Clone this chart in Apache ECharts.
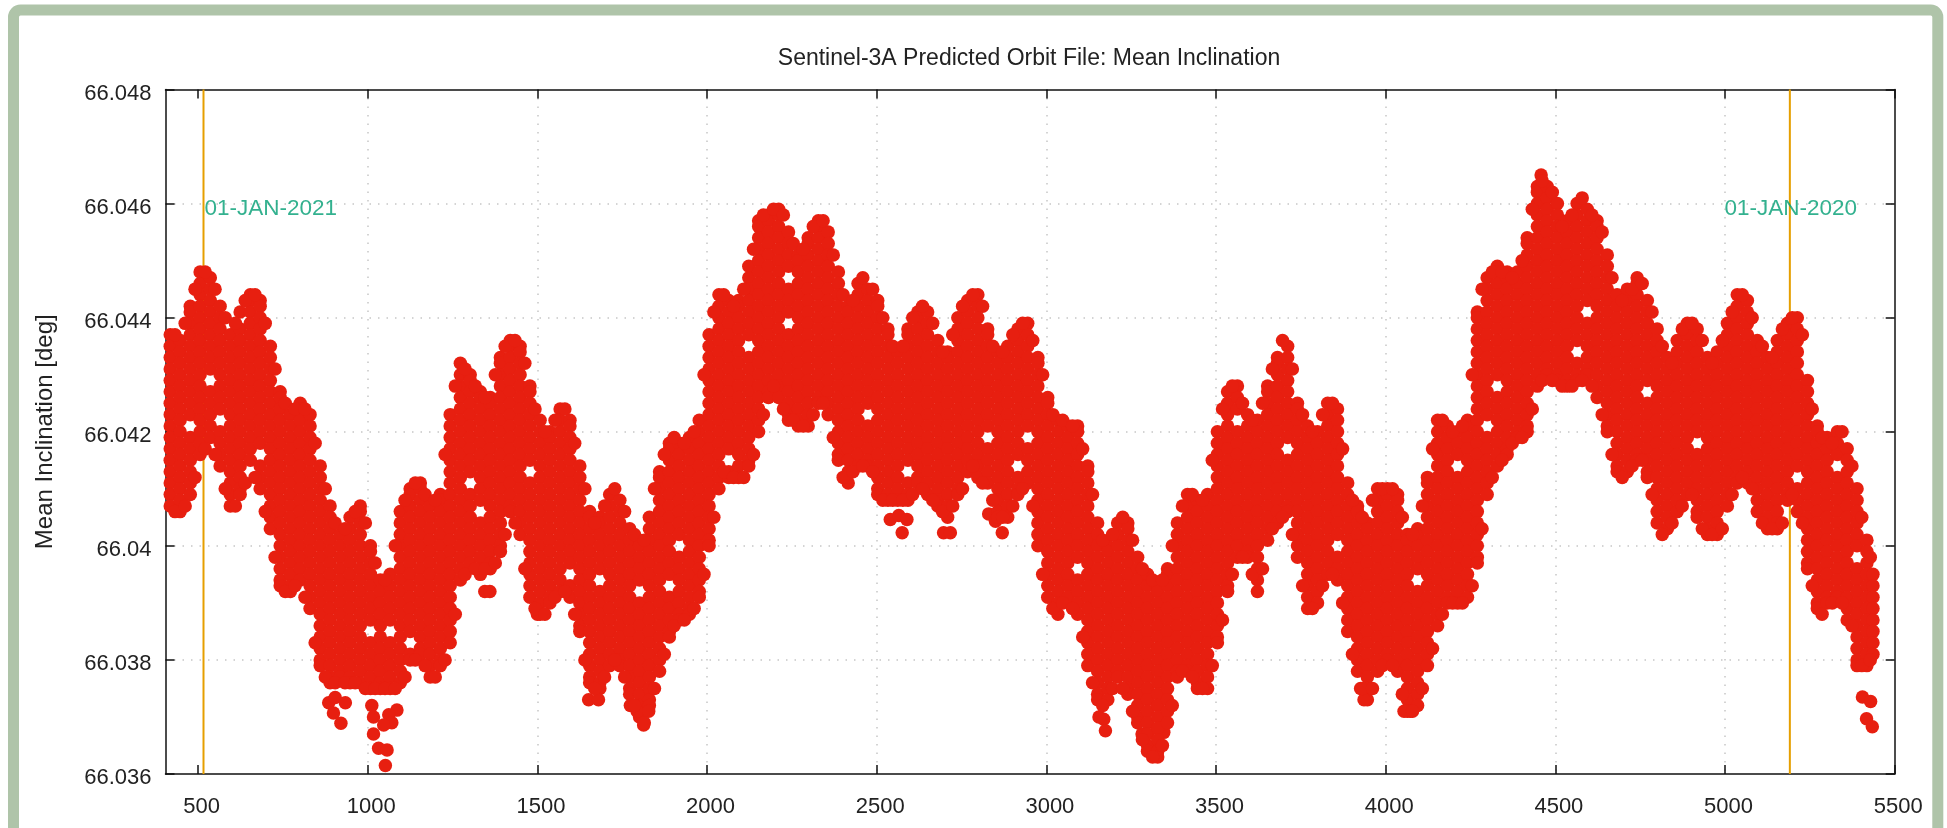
<!DOCTYPE html>
<html>
<head>
<meta charset="utf-8">
<style>html,body{margin:0;padding:0;background:#fff;overflow:hidden}#c{width:1947px;height:828px}</style>
<script src="https://cdn.jsdelivr.net/npm/echarts@6/dist/echarts.min.js"></script>
</head>
<body>
<div id="c"></div>
<script>
// Each row: x (orbit/day index) then readings, in units of 0.0001 deg above 66.036
const rows0400 = [
[418,77,75,73,71,69,67,65,63,61,59,57,55,53,51,49,47],
[447,76,74,72,70,68,66,64,62,60,58,56,54,52,50,48,46],
[477,82,81,79,77,75,73,71,69,67,65,63,59,57,55,53,51,49],
[506,88,86,84,82,80,78,76,74,72,70,68,66,64,62,60,58,56],
[536,87,85,83,81,79,77,75,73,71,67,65,63,61,59],
[565,82,80,78,76,74,72,70,68,66,64,60,58,56,54],
[595,77,75,73,71,69,67,65,63,61,59,57,55,53,51,49,47],
[624,81,78,76,74,72,70,68,66,64,62,60,58,56,54,52,50,49],
[654,84,83,81,79,77,75,73,71,69,67,65,63,61,59,57,55],
[683,83,82,80,78,76,74,72,70,68,66,64,62,60,58,54,52,50],
[713,75,73,71,69,67,65,63,61,59,57,55,53,51,49,47,45,43],
[742,67,66,64,62,60,58,56,54,52,50,48,46,44,42,40,38,36,34,33],
[772,63,61,59,57,55,53,51,49,47,45,43,41,39,37,35,33,32],
[801,65,64,62,60,58,56,54,52,50,48,46,44,42,40,38,36,34],
[830,63,61,59,57,55,53,51,49,47,45,43,41,39,37,35,33,31,29],
[860,54,52,50,48,46,44,42,40,38,36,34,32,30,28,26,24,22,20,19],
[889,47,45,43,41,39,37,35,33,31,29,27,25,23,21,19,17,16],
[919,42,40,38,36,34,32,30,28,26,24,22,20,18,17],
[948,45,43,41,39,37,35,33,31,29,27,25,23,21,19,17,16],
[978,47,46,44,42,40,38,36,34,32,30,28,26,24,22,20,18,16],
[885,12.5],[904,13.4],[934,12.5],[899,10.7],[921,8.9]
];
const rows1000 = [
[1008,40,39,37,35,33,31,29,27,23,21,19,17,15],
[1037,34,32,30,28,26,24,22,20,18,16,15],
[1066,35,33,31,29,27,23,21,19,17,15],
[1096,46,44,42,40,38,36,34,32,30,28,26,24,22,20,18,16],
[1125,50,49,47,45,43,41,39,37,35,33,31,29,27,25,21,20],
[1155,51,50,48,46,44,42,40,38,36,34,32,30,28,26,24,22,21],
[1184,47,45,43,41,39,37,35,33,31,29,27,25,23,21,19,17],
[1214,49,48,46,44,42,40,38,36,34,32,30,28,26,24,22,20,19],
[1243,63,61,59,57,55,53,51,49,47,45,43,41,39,37,35,33,31,29,27,25,23],
[1273,72,70,68,66,64,62,60,58,56,54,52,50,48,46,44,42,40,38,36,34],
[1302,70,69,67,65,63,61,59,57,55,53,49,47,45,43,41,39,37],
[1332,67,66,64,62,60,58,56,54,52,50,48,44,42,40,38,36,35],
[1361,66,65,63,61,59,57,55,53,51,49,47,45,43,41,39,37,36],
[1391,73,72,70,68,66,64,62,60,58,56,54,52,50,48,46,44,42,40,39],
[1420,76,75,73,71,69,67,65,63,61,59,57,55,53,51,49,47,46],
[1449,75,74,72,70,68,66,64,62,60,58,56,54,52,50,48,46,44,42],
[1478,68,67,65,63,61,59,57,55,51,49,47,45,43,41,39,37,35,33,31],
[1012,12],[1017,10],[1017,7],[1032,4.5],[1057,4.2],[1052,1.5],[1086,11.2],[1062,10.4],[1071,9],[1047,8.6],[1345,32],[1360,32],[1508,30],[1500,28]
];
const rows1500 = [
[1508,62,60,58,56,54,52,50,48,46,44,42,40,38,36,34,32,28],
[1537,60,59,57,55,53,51,49,47,45,43,41,39,37,35,33,31,30],
[1567,64,62,60,58,56,54,52,50,48,46,44,42,40,38,36,34,32],
[1596,62,61,59,57,55,53,51,49,47,45,43,41,39,37,33,31],
[1625,54,52,50,48,46,44,42,40,38,36,34,32,30,28,26,25],
[1654,46,45,43,41,39,37,35,33,31,29,27,25,23,21,19,17,16],
[1684,45,44,42,40,38,36,32,30,28,26,24,22,20,18,16,15],
[1713,49,47,45,43,41,39,37,35,33,31,29,27,25,23,21,19],
[1743,48,46,44,42,40,38,36,34,32,30,28,26,24,22,20,19],
[1772,43,41,39,37,35,33,31,29,27,25,23,21,19,17,15,14],
[1801,41,40,38,36,34,30,28,26,24,22,20,18,16,14,12,10],
[1830,45,43,41,39,37,35,33,31,29,27,25,23,21,19,17,15,13,12],
[1860,53,52,50,48,46,44,42,40,38,36,34,32,30,28,26,24,22,20,18],
[1889,58,57,55,53,51,49,47,45,43,41,39,37,35,31,29,27,25,24],
[1918,58,56,54,52,50,48,46,44,42,38,36,34,32,30,28,27],
[1948,59,57,55,53,51,49,47,45,43,41,39,37,35,33,31,29,28],
[1977,62,60,58,56,54,52,50,48,46,44,42,40,38,36,34,32,31],
[1651,13],[1680,13],[1774,12],[1794,11],[1813,8.6],[1828,11]
];
const rows2000 = [
[2006,77,75,73,71,69,67,65,63,61,59,57,55,53,51,49,47,45,43,41,40],
[2035,84,82,80,78,76,74,72,70,68,66,64,62,60,58,56,54,52,50],
[2064,83,81,79,77,75,73,71,69,67,65,63,61,59,57,53,52],
[2093,83,82,80,78,76,74,72,70,68,66,64,62,60,58,56,54,52],
[2123,89,87,85,83,81,79,77,73,71,69,67,65,63,61,59,57,55,54],
[2152,97,96,94,92,90,88,86,84,82,80,78,76,74,72,70,68,66,64,62,60],
[2181,98,97,95,93,91,89,87,85,83,81,79,77,75,73,71,69,67,66],
[2211,99,98,96,94,92,90,88,86,84,82,80,78,76,74,72,70,68,66],
[2240,95,93,91,89,85,83,81,77,75,73,71,69,67,65,63,62],
[2269,91,90,88,86,84,82,80,78,76,74,72,70,68,66,64,62,61],
[2298,94,93,91,89,87,85,83,81,79,77,75,73,71,69,67,65,63,61],
[2328,97,96,94,92,90,88,86,84,82,80,78,76,74,72,70,68,66,65],
[2357,95,93,91,89,87,85,83,81,79,77,75,73,71,69,67,65,63],
[2387,88,86,84,82,80,78,76,74,72,70,68,66,64,62,60,58,56,55],
[2416,82,81,79,77,75,73,71,69,67,65,63,61,59,57,55,53,51],
[2445,86,84,82,80,78,76,74,72,70,68,66,64,62,60,58,56,54],
[2474,85,83,81,79,77,75,73,71,69,67,65,61,59,57,55,54],
[2540,44.6],[2565,45.3],[2589,44.6],[2575,42.3],[2697,42.3],[2717,42.3],[2830,45.6],[2850,44.3],[2870,42.3]
];
const rows2500 = [
[2503,83,82,80,78,76,74,72,70,68,66,64,62,60,58,56,54,52,50,49],
[2533,78,77,75,73,71,69,67,65,63,61,59,57,55,53,51,49,48],
[2562,74,72,70,68,66,64,62,60,58,56,54,52,50,48],
[2592,78,77,75,73,71,69,67,65,63,61,59,57,55,51,49,48],
[2621,81,80,78,76,74,72,70,68,66,64,62,60,58,56,54,52,51],
[2650,81,79,77,75,73,71,69,67,65,63,61,59,57,55,53,51,49],
[2680,76,74,72,70,68,66,64,62,60,58,56,54,52,50,48,47],
[2709,74,73,71,69,67,65,63,61,59,57,55,53,51,49,47,45],
[2739,80,78,76,74,72,70,68,66,64,62,60,58,56,54,52,50,49],
[2768,83,81,79,77,75,73,71,69,67,65,63,61,59,57,55,53],
[2798,84,82,80,78,76,74,72,70,68,66,64,62,60,58,56,54,52],
[2827,78,77,75,73,71,69,67,65,63,61,57,55,53,51],
[2857,74,72,70,68,66,64,62,60,58,56,54,52,50,48,46,45],
[2886,75,73,71,69,67,65,63,61,59,57,55,53,51,49,47,45],
[2916,78,76,74,72,70,68,66,64,62,60,58,56,52,50,49],
[2945,79,77,75,73,71,69,67,65,63,61,57,55,53,51],
[2975,73,72,70,68,66,64,62,60,58,56,54,52,50,48,46,44,42,40],
[3169,9.6],[3174,7.6],[3155,10],[3282,7],[3346,7.3],[3322,4.6]
];
const rows3000 = [
[3004,66,65,63,61,59,57,55,53,51,49,47,45,43,41,39,37,35,33,31],
[3034,62,60,58,56,54,52,50,48,46,44,42,40,38,36,34,32,30,28],
[3063,61,59,57,55,53,51,49,47,45,43,41,39,37,35,33,31],
[3092,61,60,58,56,54,52,50,48,46,44,42,40,38,34,32,30,28],
[3122,54,53,51,49,47,45,43,41,39,37,35,33,31,29,27,25,23,21,19],
[3151,44,42,40,38,36,34,32,30,28,26,24,22,20,18,16,14,13],
[3181,40,39,37,35,33,31,29,27,25,23,21,19,17,15,13],
[3210,44,42,40,38,36,34,32,30,28,26,24,22,20,18,17],
[3240,44,43,41,39,37,35,33,31,29,27,25,23,21,19,17,15,14],
[3269,38,36,34,32,30,28,26,24,22,20,18,16,14,12,10,9],
[3298,35,33,31,29,27,25,23,21,19,17,15,13,11,9,7,5,4],
[3328,33,32,30,28,26,24,22,20,18,16,14,12,10,8,6,4,3],
[3357,36,35,33,31,29,27,25,23,21,19,17,15,13,11,9],
[3386,44,42,40,38,36,34,32,30,28,26,24,22,20,18,17],
[3416,49,47,45,43,41,39,37,35,33,31,29,27,25,23,21,19,18],
[3445,48,46,44,42,40,38,36,34,32,30,28,26,24,22,20,18,16,15],
[3475,49,47,45,43,41,39,37,35,33,31,29,27,25,23,21,19,17,15]
];
const rows3500 = [
[3504,60,58,56,54,52,50,48,46,44,42,40,38,36,34,32,30,28,26,24,23],
[3534,67,65,63,61,59,57,55,53,51,49,47,45,43,41,39,37,35,33,32],
[3563,68,66,64,60,58,56,54,52,50,48,46,44,42,40,38],
[3593,63,61,59,57,55,53,51,49,47,45,43,41,39,38],
[3622,62,60,58,56,54,52,50,48,46,44,42,40,38,36,34,32],
[3652,68,67,65,63,61,59,57,55,53,51,49,47,45,43,41],
[3681,73,72,70,68,66,64,62,60,58,56,54,52,50,48,46,44],
[3711,75,73,71,69,67,65,63,61,59,55,53,51,49,47,46],
[3740,65,64,62,60,58,56,54,52,50,48,46,44,42,40,38],
[3770,61,59,57,55,53,51,49,47,45,43,41,39,37,35,33,31,29],
[3799,60,58,56,54,52,50,48,46,44,42,40,38,36,34,32,30],
[3829,65,63,61,59,57,55,53,51,49,47,45,43,41,39,37,35],
[3858,64,62,60,58,56,54,52,50,48,46,44,42,38,36,34],
[3888,51,49,47,45,43,41,39,37,35,33,31,29,27,25],
[3917,47,46,44,42,40,38,36,34,32,30,28,26,24,22,20,18],
[3946,44,43,41,39,37,35,33,31,29,27,25,23,21,19,17,15,13],
[3976,50,48,46,44,42,40,38,36,34,32,30,28,26,24,22,20,18],
[3926,15],[3936,13]
];
const rows4000 = [
[4005,50,49,47,45,43,41,39,37,35,33,31,29,27,25,23,21,20],
[4035,49,48,46,44,42,40,38,36,34,32,30,28,26,24,22,20,18],
[4064,42,41,39,37,35,33,31,29,27,25,23,21,19,17,15,13,11],
[4094,43,42,40,38,36,32,30,28,26,24,22,20,18,16,14,12],
[4123,52,51,49,47,45,43,41,39,37,35,33,31,29,27,25,23,21,19],
[4153,62,60,58,56,54,52,50,48,46,44,42,40,38,36,34,32,30,28,26],
[4182,61,59,57,55,53,51,49,47,45,43,41,39,37,35,33,31,30],
[4212,60,58,56,52,50,48,46,44,42,40,38,36,34,32,30],
[4241,62,61,59,57,55,53,51,49,47,45,43,41,39,37,35,33,31],
[4270,81,80,78,76,74,72,70,68,66,64,62,60,58,56,54,52,50,48,46,44,42,40,38,37],
[4299,87,85,83,81,79,77,75,73,71,69,67,65,63,59,57,55,53,51,49],
[4329,89,88,86,84,82,80,78,76,74,72,70,66,64,62,60,58,56,54],
[4358,88,87,85,83,81,79,77,75,73,71,69,67,65,63,61,59,57,56],
[4388,88,86,84,82,80,78,76,74,72,70,68,66,64,62,60,59],
[4417,94,93,91,89,87,85,83,81,79,77,75,73,71,69,67,65,63,61,60],
[4447,103,102,100,98,96,94,92,90,88,86,84,82,80,78,76,74,72,70,68],
[4476,103,101,99,97,95,93,91,89,87,85,83,81,79,77,75,73,71,70],
[4458,105],[4073,11],[4054,11]
];
const rows4500 = [
[4506,100,98,96,94,92,90,88,86,84,82,80,78,76,74,72,70,69],
[4535,97,95,93,91,89,87,85,83,81,79,77,75,73,71,69,68],
[4564,100,98,96,94,92,90,88,86,84,82,80,78,76,72,70,69],
[4594,99,97,95,93,91,89,87,85,83,79,77,75,73,71,70],
[4623,97,96,94,92,90,88,86,84,82,80,78,76,74,72,70,68,66],
[4653,91,89,87,85,83,81,79,77,75,73,71,69,67,65,63,61,60],
[4682,84,82,80,78,76,74,72,70,68,66,64,62,60,58,56,54,53],
[4712,85,83,81,79,77,75,73,71,69,67,65,63,61,59,57,55,53],
[4741,87,86,84,82,80,78,76,74,72,70,68,66,64,62,60,58,56,55],
[4771,83,81,79,77,75,73,71,69,65,63,61,59,57,55,53,52],
[4800,78,76,74,72,70,68,66,64,62,60,58,56,54,52,50,48,46,44],
[4830,73,71,69,67,65,63,61,59,57,55,53,51,49,47,45,43],
[4859,76,74,72,70,68,66,64,62,60,58,56,54,52,50,48,46],
[4889,79,77,75,73,71,69,67,65,63,61,59,57,55,53,51,49],
[4918,78,76,74,72,70,68,66,64,62,60,56,54,52,50,48,46,45],
[4948,73,71,69,67,65,63,61,59,57,55,53,51,49,47,45,43,42],
[4977,74,72,70,68,66,64,62,60,58,56,54,52,50,48,46,44,42]
];
const rows5000 = [
[5007,79,77,75,73,71,69,67,65,63,61,59,57,55,53,51,49,47],
[5036,84,82,80,78,76,74,72,70,68,66,64,62,60,58,56,54,52,51],
[5066,83,81,79,77,75,73,71,69,67,65,63,61,59,57,55,53,51],
[5095,76,74,72,70,68,66,64,62,60,58,56,54,52,50,48,46],
[5125,73,71,69,67,65,63,61,59,57,55,53,51,49,47,45,43],
[5154,76,74,72,70,68,66,64,62,60,58,56,54,52,50,48,46,44,43],
[5184,79,77,75,73,71,69,67,65,63,61,59,57,55,53,51,49,48],
[5213,80,78,76,74,72,70,68,66,64,62,60,58,56,54,50,48,46],
[5243,69,67,65,63,61,59,57,55,53,51,49,47,45,43,41,39,37,36],
[5272,61,60,58,56,54,52,50,48,46,44,42,40,38,36,34,32,30,29],
[5301,59,57,55,53,51,49,47,45,43,41,39,37,35,33,31,30],
[5331,60,58,56,52,50,48,46,44,42,40,38,36,34,32,31],
[5360,57,55,53,51,49,47,45,43,41,39,37,35,33,31,29,27],
[5389,50,48,46,44,42,40,36,34,32,30,28,26,24,22,20,19],
[5418,41,39,37,35,33,31,29,27,25,23,21,19],
[5436,35,33,31,29,27,25,23,21],
[5405,13.5],[5429,12.7],[5417,9.7],[5434,8.3]
];
// Upper and lower rim readings between the columns above
const rimLow = [
[432,77,46],[462,79,47],[491,85,52],[521,88,57],[550,85,56],[580,80,50],[610,79,47],[639,83,51],[668,84,52],[698,79,46],
[727,71,38],[757,65,32],[786,64,33],[815,64,31],[845,58,23],[875,50,17],[904,44,16],[933,43,16],[963,46,16],[993,44,15],
[1022,37,15],[1051,34,15],[1081,40,15],[1110,48,17],[1140,51,20],[1169,49,19],[1199,48,17],[1228,56,20],[1258,68,28],[1287,71,35],
[1317,68,36],[1346,66,36],[1376,70,37],[1405,75,42],[1434,76,44],[1463,72,36],[1493,64,29],[1522,60,28],[1552,62,31],[1581,64,32],
[1610,58,28],[1640,50,20],[1669,44,15],[1698,47,17],[1728,50,20],[1757,46,17],[1786,42,12],[1815,41,9],[1845,50,15],[1874,56,21],
[1903,59,26],[1933,58,27],[1962,60,29],[1991,70,35],[2020,81,45],[2049,84,53],[2078,82,52],[2108,85,52],[2137,92,56],[2166,98,63],
[2196,99,68],[2225,98,64],[2254,93,62],[2283,92,61],[2313,96,63],[2342,97,65],[2372,91,59],[2401,84,52],[2430,83,53],[2459,87,54],
[2488,85,53],[2518,80,48],[2547,75,48],[2577,75,48],[2606,80,49],[2635,82,50],[2665,79,48],[2694,74,46],[2724,77,47],[2753,82,50],
[2783,84,54],[2812,82,51],[2842,75,48],[2871,74,45],[2901,77,47],[2930,79,50],[2960,76,47],[2989,70,35]
];
const rimHigh = [
[3019,63,29],[3048,62,30],[3077,61,29],[3107,57,24],[3136,49,16],[3166,41,12],[3195,42,15],[3225,45,15],[3254,41,11],[3283,36,6],
[3313,34,3],[3342,34,5],[3371,40,12],[3401,47,18],[3430,49,17],[3460,48,15],[3489,55,19],[3519,64,27],[3548,68,35],[3578,65,38],
[3607,62,35],[3637,65,36],[3666,71,43],[3696,76,45],[3725,71,42],[3755,63,33],[3784,60,29],[3814,63,33],[3843,65,35],[3873,57,30],
[3902,48,21],[3931,45,15],[3961,48,15],[3990,50,19],[4020,50,19],[4049,45,14],[4079,42,11],[4108,47,15],[4138,57,22],[4167,62,28],
[4197,60,30],[4226,61,30],[4255,70,33],[4284,85,43],[4314,88,52],[4343,88,55],[4373,87,58],[4402,90,59],[4432,99,64],[4461,104,69],
[4491,102,69],[4520,96,68],[4549,98,68],[4579,101,69],[4608,98,68],[4638,95,63],[4667,87,56],[4697,83,52],[4726,85,54],[4756,86,55],
[4785,81,49],[4815,75,42],[4844,72,44],[4874,78,47],[4903,79,49],[4933,76,43],[4962,72,42],[4992,76,43],[5021,81,49],[5051,84,52],
[5080,80,50],[5110,75,44],[5139,73,43],[5169,78,44],[5198,80,49],[5228,77,44],[5257,64,33],[5286,59,28],[5316,58,30],[5345,60,30],
[5374,54,26],[5403,45,19],[5428,38,20]
];

const baseInclination = 66.036;
const xTicks = [500,1000,1500,2000,2500,3000,3500,4000,4500,5000,5500];
const yTicks = [66.036,66.038,66.04,66.042,66.044,66.046,66.048];
const eventX = [516,5191];
const eventLabels = ['01-JAN-2021','01-JAN-2020'];
const eventLabelY = 66.046;
const titleText = 'Sentinel-3A Predicted Orbit File: Mean Inclination';
const yName = 'Mean Inclination [deg]';

const allRows = [rows0400,rows1000,rows1500,rows2000,rows2500,rows3000,rows3500,rows4000,rows4500,rows5000,rimLow,rimHigh];
const points = [];
allRows.forEach(sec => sec.forEach(row => {
  for (let i = 1; i < row.length; i++) points.push([row[0], +(baseInclination + row[i] / 10000).toFixed(5)]);
}));

const FONT = '"Liberation Sans", Arial, sans-serif';
const TXT = '#222';
const axisLine = {show:true, lineStyle:{color:'#111', width:1.5}};
const tick = {show:true, inside:true, length:9, lineStyle:{color:'#111', width:1.5}};
const grid = {show:true, showMinLine:false, showMaxLine:false, lineStyle:{color:'#c6c6c6', width:1.5, type:[1.5,7]}};

const chart = echarts.init(document.getElementById('c'), null, {renderer:'canvas'});
chart.setOption({
  animation:false,
  backgroundColor:'#fff',
  title:{text:titleText, left:1024, top:42, textAlign:'center',
    textStyle:{fontFamily:FONT, fontSize:23, fontWeight:'normal', color:TXT}},
  grid:{left:165.5, top:89.5, width:1729.2, height:684.5, containLabel:false},
  xAxis:[
    {type:'value', min:404, max:5500, position:'bottom', axisLine, axisTick:{...tick, customValues:xTicks},
      axisLabel:{customValues:xTicks, margin:22, padding:[0,0,0,7], fontFamily:FONT, fontSize:22, color:TXT, formatter:v=>String(v)},
      splitLine:grid},
    {type:'value', min:404, max:5500, position:'top', axisLine, axisTick:{...tick, customValues:xTicks},
      axisLabel:{show:false}, splitLine:{show:false}}
  ],
  yAxis:[
    {type:'value', min:66.036, max:66.048, position:'left', axisLine, axisTick:{...tick, customValues:yTicks},
      name:yName, nameLocation:'middle', nameGap:108, nameRotate:90,
      nameTextStyle:{fontFamily:FONT, fontSize:24, color:TXT},
      axisLabel:{customValues:yTicks, margin:14, verticalAlign:'top', lineHeight:8, fontFamily:FONT, fontSize:22, color:TXT, formatter:v=>String(v)},
      splitLine:grid},
    {type:'value', min:66.036, max:66.048, position:'right', axisLine, axisTick:{...tick, customValues:yTicks},
      axisLabel:{show:false}, splitLine:{show:false}}
  ],
  series:[
    {type:'line', name:'01-JAN-2021 marker', data:[[eventX[0],66.036],[eventX[0],66.048]], symbol:'none', z:1,
      lineStyle:{color:'#E69F00', width:2}},
    {type:'line', name:'01-JAN-2020 marker', data:[[eventX[1],66.036],[eventX[1],66.048]], symbol:'none', z:1,
      lineStyle:{color:'#E69F00', width:2}},
    {type:'scatter', name:'Mean Inclination', data:points, symbol:'circle', symbolSize:13.5, z:2,
      progressive:0, large:false, itemStyle:{color:'#E71F10', opacity:1}},
    {type:'scatter', name:'labels', symbolSize:0, z:3, silent:true,
      data:[
        {value:[eventX[0],eventLabelY], label:{show:true, formatter:eventLabels[0], position:'right', distance:1, offset:[0,5]}},
        {value:[eventX[1],eventLabelY], label:{show:true, formatter:eventLabels[1], position:'inside', offset:[1,5]}}
      ],
      label:{fontFamily:FONT, fontSize:22.5, color:'#009E73'}}
  ],
  graphic:[{type:'rect', silent:true, z:100,
    shape:{x:13.5, y:10, width:1924.3, height:840, r:7},
    style:{fill:'none', stroke:'#AFC4A9', lineWidth:11}}]
});
</script>
</body>
</html>
